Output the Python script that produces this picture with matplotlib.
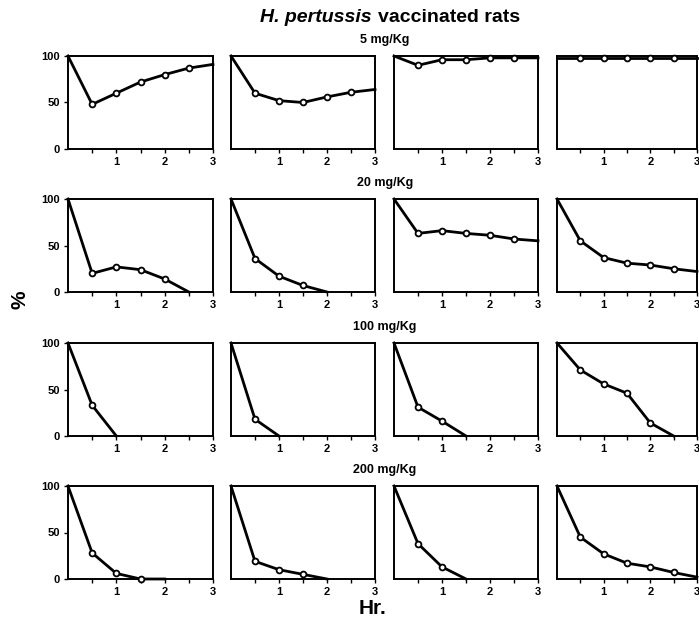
import matplotlib
matplotlib.use("Agg")
import matplotlib.pyplot as plt
import numpy as np

plt.rcParams['font.family'] = ['Liberation Sans', 'DejaVu Sans']

hours = [0, 0.5, 1, 1.5, 2, 2.5, 3]
doses = ["5 mg/Kg", "20 mg/Kg", "100 mg/Kg", "200 mg/Kg"]

# values per dose row, 4 panels each (percentage remaining)
dose5 = [
    [100, 48, 60, 72, 80, 87, 91],
    [100, 60, 52, 50, 56, 61, 64],
    [100, 90, 96, 96, 98, 98, 98],
    [98, 98, 98, 98, 98, 98, 98],
]
dose20 = [
    [100, 20, 27, 24, 14, 0],
    [100, 36, 17, 7, 0],
    [100, 63, 66, 63, 61, 57, 55],
    [100, 55, 37, 31, 29, 25, 22],
]
dose100 = [
    [100, 33, 0],
    [100, 18, 0],
    [100, 31, 16, 0],
    [100, 71, 56, 46, 14, 0],
]
dose200 = [
    [100, 28, 6, 0, 0],
    [100, 19, 10, 5, 0],
    [100, 38, 13, 0],
    [100, 45, 27, 17, 13, 7, 2],
]
all_rows = [dose5, dose20, dose100, dose200]

W, H = 699, 622
fig = plt.figure(figsize=(W / 100, H / 100), dpi=100)

col_left = [68, 231, 394, 557]
col_w = [145, 144, 144, 140]
row_top = [56, 199, 343, 486]
ax_h = 93

for r, rowdata in enumerate(all_rows):
    for c, vals in enumerate(rowdata):
        left = col_left[c] / W
        bottom = 1 - (row_top[r] + ax_h) / H
        ax = fig.add_axes([left, bottom, col_w[c] / W, ax_h / H])
        xs = hours[:len(vals)]
        ax.plot(xs, vals, color='black', lw=2.0, solid_joinstyle='round', zorder=3, clip_on=False)
        mx, my = [], []
        for i, (x, v) in enumerate(zip(xs, vals)):
            if x == 0 or x == 3:
                continue
            if i == len(vals) - 1:
                continue
            mx.append(x)
            my.append(v)
        ax.plot(mx, my, 'o', ms=4.2, mfc='white', mec='black', mew=1.3, zorder=4, clip_on=False)
        ax.set_xlim(0, 3)
        ax.set_ylim(0, 100)
        ax.set_xticks([0.5, 1, 1.5, 2, 2.5, 3])
        ax.set_xticklabels(['', '1', '', '2', '', '3'], fontsize=8, fontweight='bold')
        ax.tick_params(axis='x', direction='out', length=3, width=1, pad=3)
        if c == 0:
            ax.set_yticks([0, 50, 100])
            ax.set_yticklabels(['0', '50', '100'], fontsize=8, fontweight='bold')
            ax.tick_params(axis='y', direction='out', length=3, width=1, pad=3)
        else:
            ax.set_yticks([])
        for s in ax.spines.values():
            s.set_linewidth(1.4)

    fig.text(385 / W, 1 - (row_top[r] - 16) / H, doses[r], ha='center', va='center',
             fontsize=9, fontweight='bold')

fig.text(372 / W, 1 - 18 / H, "H. pertussis", ha='right', va='center', fontsize=14,
         fontweight='bold', fontstyle='italic')
fig.text(378 / W, 1 - 18 / H, "vaccinated rats", ha='left', va='center', fontsize=14,
         fontweight='bold')
fig.text(20 / W, 1 - 300 / H, "%", ha='center', va='center', fontsize=15, fontweight='bold',
         rotation=90)
fig.text(372 / W, 1 - 609 / H, "Hr.", ha='center', va='center', fontsize=15, fontweight='bold')

fig.savefig("out.png", dpi=100)
